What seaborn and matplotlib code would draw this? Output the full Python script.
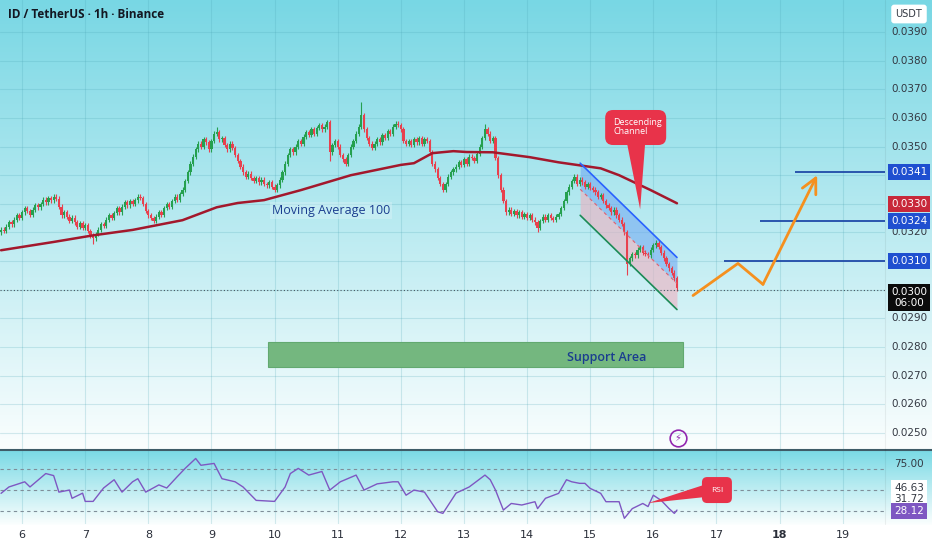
import numpy as np
import pandas as pd
import matplotlib
matplotlib.use("Agg")
import matplotlib.pyplot as plt
import matplotlib.transforms as mtransforms
from matplotlib.patches import FancyBboxPatch, Polygon, Rectangle
from matplotlib.lines import Line2D
import seaborn as sns

# ---- data (ID/USDT, 1h candles, first candle = day 5 16:00) ----
closes = [
    0.03210, 0.03205, 0.03220, 0.03235, 0.03228, 0.03245, 0.03260, 0.03252, 0.03270, 0.03285,
    0.03275, 0.03262, 0.03280, 0.03295, 0.03288, 0.03300, 0.03315, 0.03305, 0.03320, 0.03312,
    0.03325,
    0.03318, 0.03290, 0.03260, 0.03270, 0.03255, 0.03240, 0.03252, 0.03235, 0.03220, 0.03232,
    0.03215, 0.03225, 0.03205, 0.03190, 0.03180,
    0.03195, 0.03210, 0.03230, 0.03222, 0.03245, 0.03260, 0.03250, 0.03268, 0.03285, 0.03270,
    0.03290, 0.03305, 0.03295, 0.03310, 0.03300, 0.03312, 0.03325, 0.03320,
    0.03300, 0.03275, 0.03260, 0.03250, 0.03240,
    0.03255, 0.03270, 0.03262, 0.03285, 0.03300, 0.03290, 0.03310, 0.03325, 0.03315, 0.03335,
    0.03350,
    0.03380, 0.03410, 0.03440, 0.03465, 0.03490,
    0.03510, 0.03500, 0.03525, 0.03515, 0.03490, 0.03520, 0.03545, 0.03550,
    0.03525, 0.03530, 0.03505, 0.03490, 0.03510, 0.03495, 0.03470, 0.03450, 0.03430, 0.03410,
    0.03395, 0.03405, 0.03390, 0.03380,
    0.03390, 0.03375, 0.03385, 0.03370, 0.03365, 0.03375, 0.03360, 0.03350, 0.03365,
    0.03385, 0.03410, 0.03440, 0.03470, 0.03490,
    0.03480, 0.03500, 0.03520, 0.03510, 0.03535, 0.03550,
    0.03540, 0.03560, 0.03545, 0.03565, 0.03575, 0.03560, 0.03570, 0.03585,
    0.03480, 0.03505, 0.03520, 0.03500, 0.03470, 0.03455, 0.03440,
    0.03470, 0.03500, 0.03520, 0.03545, 0.03570, 0.03610,
    0.03560, 0.03530, 0.03510, 0.03495,
    0.03510, 0.03525, 0.03515, 0.03540, 0.03530, 0.03555, 0.03545, 0.03570, 0.03580,
    0.03575, 0.03560, 0.03520, 0.03510,
    0.03520, 0.03505, 0.03525, 0.03515, 0.03530, 0.03510, 0.03525, 0.03520,
    0.03480, 0.03440, 0.03420, 0.03390, 0.03370, 0.03350,
    0.03370, 0.03395, 0.03410, 0.03420,
    0.03430, 0.03445, 0.03435, 0.03455, 0.03440, 0.03465, 0.03460,
    0.03450, 0.03475, 0.03500, 0.03530, 0.03560,
    0.03545, 0.03520, 0.03530, 0.03460,
    0.03400, 0.03350, 0.03310, 0.03270,
    0.03280, 0.03265, 0.03275, 0.03260, 0.03270, 0.03255, 0.03265, 0.03250, 0.03260, 0.03245,
    0.03235, 0.03215,
    0.03240, 0.03255, 0.03245, 0.03260, 0.03250, 0.03245, 0.03255, 0.03265,
    0.03285, 0.03310, 0.03340, 0.03360, 0.03380,
    0.03395, 0.03370, 0.03385, 0.03375, 0.03360, 0.03370, 0.03355, 0.03350,
    0.03340, 0.03325, 0.03330, 0.03310, 0.03295, 0.03285, 0.03270,
    0.03280, 0.03260, 0.03245, 0.03230, 0.03200,
    0.03090,
    0.03110, 0.03125, 0.03120, 0.03140,
    0.03150, 0.03130, 0.03125, 0.03120,
    0.03140, 0.03155, 0.03165,
    0.03150, 0.03130, 0.03110, 0.03090, 0.03075, 0.03060,
    0.03040, 0.03005,
]
first_open = 0.03200
# candles with long wicks: hour -> (low, high)
long_wicks = {35: (0.03160, None), 82: (None, 0.03570), 125: (0.03450, None),
              137: (None, 0.03655), 184: (None, 0.03580), 204: (0.03200, None),
              238: (0.03050, None)}

ma_hours = [0, 20, 35, 50, 69, 82, 90, 100, 114, 133, 152, 157, 164, 172, 177, 187, 201,
            212, 228, 235, 247, 257]
ma_values = [0.03138, 0.03167, 0.03190, 0.03209, 0.03243, 0.03288, 0.03303, 0.03313,
             0.03348, 0.03400, 0.03436, 0.03442, 0.03477, 0.03484, 0.03481, 0.03480, 0.03463,
             0.03445, 0.03424, 0.03400, 0.03348, 0.03302]

rsi_hours = [0, 3, 9, 11, 17, 20, 22, 26, 27, 31, 32, 35, 39, 43, 46, 50, 52, 55, 60, 63,
             67, 70, 74, 76, 81, 84, 89, 92, 97, 104, 108, 110, 113, 117, 122, 125, 129, 135,
             138, 143, 149, 151, 154, 157, 161, 166, 168, 173, 178, 184, 186, 188, 191, 194,
             198, 203, 204, 207, 212, 215, 217, 220, 222, 224, 228, 230, 235, 237, 240, 244,
             246, 248, 251, 254, 256, 257]
rsi_values = [46.8, 53, 58, 53, 66, 64, 48, 50, 42, 47, 39, 39, 52, 60, 48, 58, 61, 48, 55, 52,
              63, 71, 80.6, 74, 75.8, 61, 58, 53, 40, 39, 53, 66, 71, 64.5, 68, 50, 58, 64.5,
              50, 56, 58, 58, 45, 50, 48, 29, 27.4, 47, 53, 64.5, 60, 50, 30.6, 37,
              35.5, 38.7, 32, 42, 46.8, 60, 58, 56.5, 56.5, 51.6, 46.8, 38.7, 38.7, 22.6, 32, 37,
              34, 45, 40, 32, 27.4, 30.6]

day_labels = ["6", "7", "8", "9", "10", "11", "12", "13", "14", "15", "16", "17", "18", "19"]
day_hours = [8 + 24 * i for i in range(len(day_labels))]
price_ticks = [0.0250, 0.0260, 0.0270, 0.0280, 0.0290, 0.0300, 0.0310, 0.0320,
               0.0330, 0.0340, 0.0350, 0.0360, 0.0370, 0.0380, 0.0390]
shown_price_labels = [0.0390, 0.0380, 0.0370, 0.0360, 0.0350, 0.0320,
                      0.0290, 0.0280, 0.0270, 0.0260, 0.0250]

channel_hours = [220.2, 257.0]
channel_top = [0.03442, 0.03113]
channel_mid = [0.03351, 0.03022]
channel_bottom = [0.03260, 0.02931]

target_levels = [0.0341, 0.0324, 0.0310]
target_starts = [301.9, 288.6, 274.9]

path_hours = [263.1, 280.2, 289.7, 310.3]
path_prices = [0.02980, 0.03092, 0.03019, 0.03400]

support_low, support_high = 0.02729, 0.02816
support_from, support_to = 101.5, 259.3

last_price = 0.0300
ma_last = 0.0330
rsi_labels = ["46.63", "31.72", "28.12"]

# ---- style ----
sns.set_theme(style="white")
plt.rcParams['font.family'] = ['Open Sans', 'DejaVu Sans']

W, H = 932, 550
fig = plt.figure(figsize=(9.32, 5.5), dpi=100)

# background gradients (main pane, rsi pane, white strip)
grad = np.ones((H, 1, 3))
top_c = np.array([120, 215, 228]) / 255
rsi_c = np.array([122, 218, 229]) / 255
white = np.array([251, 254, 254]) / 255
t = np.linspace(0, 1, 450)[:, None]
grad[:450, 0, :] = top_c * (1 - t) + white * t
t2 = np.linspace(0, 1, 75)[:, None]
grad[450:525, 0, :] = rsi_c * (1 - t2) + white * t2
bg = fig.add_axes([0, 0, 1, 1], zorder=-10)
bg.imshow(grad, extent=[0, 1, 0, 1], aspect='auto', origin='upper')
bg.axis('off')

right = 885 / W
ax = fig.add_axes([0, (H - 449.5) / H, right, 449.5 / H])
rax = fig.add_axes([0, 26 / H, right, 74.5 / H])
for a in (ax, rax):
    a.patch.set_alpha(0)
    for s in a.spines.values():
        s.set_visible(False)
    a.set_xlim(-0.4, 336.1)
    a.set_xticks(day_hours)
    a.grid(True, axis='x', color='#4aa3b3', alpha=0.22, lw=0.8)
    a.tick_params(length=0)

ax.set_ylim(0.024424, 0.040117)
ax.set_yticks(price_ticks)
ax.grid(True, axis='y', color='#4aa3b3', alpha=0.22, lw=0.8)
ax.set_xticklabels([])
ax.set_yticklabels([])

# candles
opens = [first_open] + closes[:-1]
hours = np.arange(len(closes))
df = pd.DataFrame({"h": hours, "o": opens, "c": closes})
df["hi"] = df[["o", "c"]].max(axis=1) + 0.00008
df["lo"] = df[["o", "c"]].min(axis=1) - 0.00008
for hh, (lo, hi) in long_wicks.items():
    if lo is not None:
        df.loc[hh, "lo"] = lo
    if hi is not None:
        df.loc[hh, "hi"] = hi
up = df["c"] >= df["o"]
colors = np.where(up, '#25a04f', '#e8404e')
ax.vlines(df["h"], df["lo"], df["hi"], colors=colors, lw=0.8, zorder=3)
body = (df["c"] - df["o"]).abs().clip(lower=0.00003)
ax.bar(df["h"], body, bottom=df[["o", "c"]].min(axis=1), width=0.85,
       color=colors, lw=0, zorder=4)

# moving average
sns.lineplot(x=ma_hours, y=ma_values, ax=ax, color='#a3182c', lw=1.8, zorder=5)
ax.text(125.5, 0.03278, "Moving Average 100", color='#1a3d8f', fontsize=9, ha='center',
        va='center', bbox=dict(boxstyle='square,pad=0.15', fc=(0.85, 0.95, 0.97, 0.45), ec='none'),
        zorder=6)

# descending channel
ax.fill_between(channel_hours, channel_mid, channel_top, color='#6ea6f2', alpha=0.55, lw=0, zorder=2)
ax.fill_between(channel_hours, channel_bottom, channel_mid, color='#eeb0c0', alpha=0.6, lw=0, zorder=2)
ax.plot(channel_hours, channel_top, color='#2962ff', lw=1.2, zorder=6)
ax.plot(channel_hours, channel_bottom, color='#1b8a55', lw=1.2, zorder=6)
ax.plot(channel_hours, channel_mid, color='#e06070', lw=0.8, ls=(0, (3, 3)), zorder=6)

# callout "Descending Channel"
px_price = 1 / 28640
hour_px = 2.63
box = FancyBboxPatch((229.7, 0.035054), 23.2, 0.001223,
                     boxstyle="round,pad=0,rounding_size=3", mutation_aspect=hour_px * px_price,
                     fc='#e8334a', ec='none', zorder=8)
ax.add_patch(box)
ax.add_patch(Polygon([(238.0, 0.03512), (244.9, 0.03512), (243.0, 0.03281)],
                     closed=True, fc='#e8334a', ec='none', zorder=8))
ax.text(232.7, 0.035683, "Descending\nChannel", color='white', fontsize=6.5, ha='left',
        va='center', linespacing=0.95, zorder=9)

# support area
ax.add_patch(Rectangle((support_from, support_low), support_to - support_from,
                       support_high - support_low, fc='#74b77f', ec='#62a970', lw=0.8, zorder=2))
ax.text(230.4, 0.02764, "Support Area", color='#1a3d8f', fontsize=9, ha='center', va='center',
        fontweight='semibold', zorder=3)

# last price dotted line
ax.axhline(last_price, color='#4a5560', lw=0.8, ls=(0, (1, 2)), zorder=3)

# targets
for lvl, st in zip(target_levels, target_starts):
    ax.hlines(lvl, st, 336.1, color='#1f4aa8', lw=1.3, zorder=6)

# projected path
ax.plot(path_hours[:3], path_prices[:3], color='#f5901e', lw=2, solid_capstyle='round', zorder=7)
ax.annotate('', xy=(path_hours[3], path_prices[3]), xytext=(path_hours[2], path_prices[2]),
            arrowprops=dict(arrowstyle='->,head_length=0.9,head_width=0.45', color='#f5901e',
                            lw=2, shrinkA=0, shrinkB=0), zorder=7)

# lightning icon
ax.plot([257.4], [0.02484], marker='o', ms=12, mfc='none', mec='#9228b0', mew=1.2, zorder=7)
ax.text(257.4, 0.02484, "⚡", color='#9228b0', fontsize=7, ha='center', va='center',
        family=['DejaVu Sans'], zorder=8)

# ---- RSI pane ----
rax.set_ylim(17.1, 89.3)
rax.set_yticks([])
sns.lineplot(x=rsi_hours, y=rsi_values, ax=rax, color='#7e57c2', lw=1.0, zorder=5)
for lvl in (70, 50, 30):
    rax.axhline(lvl, color='#7f8e99', lw=0.8, ls=(0, (3, 3)), zorder=2)
rax.set_xticklabels(day_labels, fontsize=8, color='#2a2e39', family=['DejaVu Sans'])
for lab in rax.get_xticklabels():
    if lab.get_text() == "18":
        lab.set_fontweight('bold')
rax.tick_params(axis='x', pad=4)
rax.set_xlabel('')

rbox = FancyBboxPatch((266.5, 37.4), 11.4, 25.2, boxstyle="round,pad=0,rounding_size=2",
                      mutation_aspect=hour_px / 1.035, fc='#e8334a', ec='none', zorder=8)
rax.add_patch(rbox)
rax.add_patch(Polygon([(266.8, 54.6), (266.8, 43.0), (246.0, 37.4)], closed=True,
                      fc='#e8334a', ec='none', zorder=8))
rax.text(272.2, 50, "RSI", color='white', fontsize=6, ha='center', va='center', zorder=9)

# ---- right price scale ----
lab_x = 909 / W
tr = mtransforms.blended_transform_factory(fig.transFigure, ax.transData)
rtr = mtransforms.blended_transform_factory(fig.transFigure, rax.transData)
lab_font = dict(fontsize=7.5, family=['DejaVu Sans'], ha='center', va='center')
for p in shown_price_labels:
    fig.text(lab_x, p, f"{p:.4f}", transform=tr, color='#333842', **lab_font)
for lvl in target_levels:
    fig.text(lab_x, lvl, f"{lvl:.4f}", transform=tr, color='white', zorder=10,
             bbox=dict(boxstyle='square,pad=0.3', fc='#1f4fd0', ec='none'), **lab_font)
fig.text(lab_x, ma_last, f"{ma_last:.4f}", transform=tr, color='white', zorder=10,
         bbox=dict(boxstyle='square,pad=0.3', fc='#c8283a', ec='none'), **lab_font)
fig.text(lab_x, 0.02973, f"{last_price:.4f}\n06:00", transform=tr, color='white', zorder=10,
         linespacing=1.15, bbox=dict(boxstyle='square,pad=0.3', fc='#0b0b0b', ec='none'), **lab_font)

fig.text(lab_x, 75, "75.00", transform=rtr, color='#333842', **lab_font)
fig.text(lab_x, 52.4, rsi_labels[0], transform=rtr, color='#333842',
         bbox=dict(boxstyle='square,pad=0.25', fc='white', ec='none'), **lab_font)
fig.text(lab_x, 41.7, rsi_labels[1], transform=rtr, color='#333842',
         bbox=dict(boxstyle='square,pad=0.25', fc='white', ec='none'), **lab_font)
fig.text(lab_x, 29.8, rsi_labels[2], transform=rtr, color='white',
         bbox=dict(boxstyle='square,pad=0.3', fc='#7e57c2', ec='none'), **lab_font)

fig.text(lab_x, 1 - 14 / H, "USDT", color='#333842', fontsize=7, ha='center', va='center',
         family=['DejaVu Sans'],
         bbox=dict(boxstyle='round,pad=0.45,rounding_size=0.3', fc='white', ec='none'))

# pane separators
fig.add_artist(Line2D([0, 1], [(H - 449.5) / H] * 2, color='#3f5c68', lw=1.5))
fig.add_artist(Line2D([right, right], [26 / H, 1], color='#000000', alpha=0.06, lw=0.8))

# title
fig.text(8 / W, 1 - 14 / H, "ID / TetherUS · 1h · Binance", color='#131722', fontsize=8.5,
         fontweight='bold', ha='left', va='center')

fig.savefig("out.png", dpi=100)
